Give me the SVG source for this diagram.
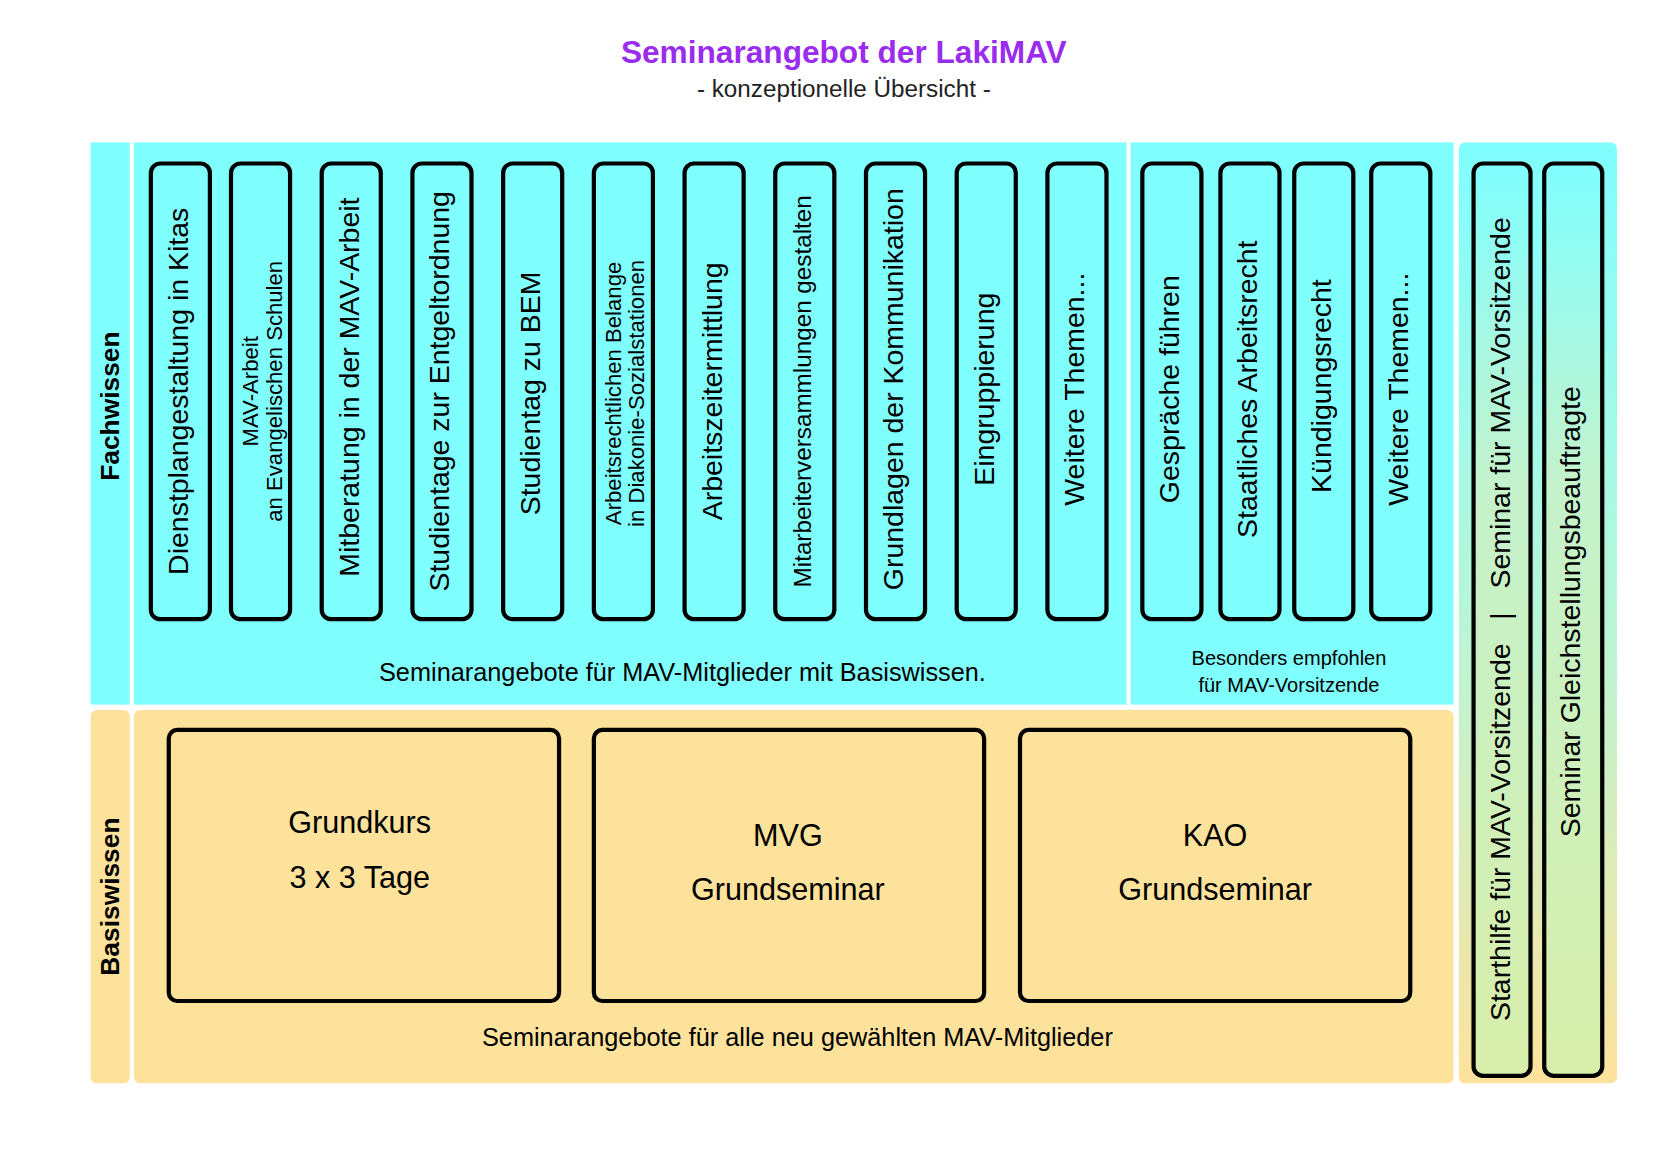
<svg xmlns="http://www.w3.org/2000/svg" width="1654" height="1166" viewBox="0 0 1654 1166">
<defs>
<style>
text{font-family:"Liberation Sans",Arial,sans-serif;fill:#000}
.c{fill:#80ffff}.y{fill:#fde29c}
.b{fill:#80ffff;stroke:#000;stroke-width:4}
.by{fill:#fde29c;stroke:#000;stroke-width:4}
.v{font-size:27px;text-anchor:middle;dominant-baseline:middle}
.s{font-size:21px;text-anchor:middle}
.m{font-size:29px;text-anchor:middle}
</style>
<linearGradient id="g" x1="0" y1="0" x2="0" y2="1">
<stop offset="0" stop-color="#80ffff"/><stop offset="0.35" stop-color="#c4f2cc"/><stop offset="1" stop-color="#d8eeaa"/></linearGradient>
<linearGradient id="pg" x1="0" y1="0" x2="0" y2="1">
<stop offset="0" stop-color="#80ffff"/><stop offset="0.5" stop-color="#b8f5d8"/><stop offset="1" stop-color="#fde29c"/></linearGradient>
</defs>
<rect width="1654" height="1166" fill="#fff"/>
<g transform="scale(1.0548)">
<text x="800" y="60" text-anchor="middle" font-size="30" font-weight="bold" style="fill:#9a2cf0">Seminarangebot der LakiMAV</text>
<text x="800" y="92" text-anchor="middle" font-size="23" style="fill:#222">- konzeptionelle Übersicht -</text>
<g id="panels">
<rect class="c" x="86" y="135" width="37" height="533"/>
<rect class="c" x="127" y="135" width="941" height="533"/>
<rect class="c" x="1072" y="135" width="306" height="533"/>
<rect class="y" x="86" y="673" width="37" height="354" rx="6"/>
<rect class="y" x="127" y="673" width="1251" height="354" rx="6"/>
<rect x="1383" y="135" width="150" height="892" rx="6" fill="url(#pg)"/>
<text transform="translate(113,385) rotate(-90)" text-anchor="middle" font-size="25" font-weight="bold">Fachwissen</text>
<text transform="translate(113,850) rotate(-90)" text-anchor="middle" font-size="25" font-weight="bold">Basiswissen</text>
<text x="647" y="646" text-anchor="middle" font-size="24">Seminarangebote für MAV-Mitglieder mit Basiswissen.</text>
<text x="1222" y="630" text-anchor="middle" font-size="19">Besonders empfohlen</text>
<text x="1222" y="656" text-anchor="middle" font-size="19">für MAV-Vorsitzende</text>
<text x="756" y="992" text-anchor="middle" font-size="24">Seminarangebote für alle neu gewählten MAV-Mitglieder</text>
</g>
<g id="f1"><rect class="b" x="143" y="155" width="56" height="432" rx="9"/><text class="v" transform="translate(171,371) rotate(-90)">Dienstplangestaltung in Kitas</text></g>
<g id="f2"><rect class="b" x="219" y="155" width="56" height="432" rx="9"/><text class="s" transform="translate(245,371) rotate(-90)"><tspan x="0" dy="0">MAV-Arbeit</tspan><tspan x="0" dy="22">an Evangelischen Schulen</tspan></text></g>
<g id="f3"><rect class="b" x="305" y="155" width="56" height="432" rx="9"/><text class="v" transform="translate(333,367) rotate(-90)">Mitberatung in der MAV-Arbeit</text></g>
<g id="f4"><rect class="b" x="391" y="155" width="56" height="432" rx="9"/><text class="v" transform="translate(419,371) rotate(-90)">Studientage zur Entgeltordnung</text></g>
<g id="f5"><rect class="b" x="477" y="155" width="56" height="432" rx="9"/><text class="v" transform="translate(505,373) rotate(-90)">Studientag zu BEM</text></g>
<g id="f6"><rect class="b" x="563" y="155" width="56" height="432" rx="9"/><text class="s" transform="translate(589,373) rotate(-90)"><tspan x="0" dy="0">Arbeitsrechtlichen Belange</tspan><tspan x="0" dy="22">in Diakonie-Sozialstationen</tspan></text></g>
<g id="f7"><rect class="b" x="649" y="155" width="56" height="432" rx="9"/><text class="v" transform="translate(677,371) rotate(-90)">Arbeitszeitermittlung</text></g>
<g id="f8"><rect class="b" x="735" y="155" width="56" height="432" rx="9"/><text class="v" style="font-size:23px" transform="translate(763,371) rotate(-90)">Mitarbeiterversammlungen gestalten</text></g>
<g id="f9"><rect class="b" x="821" y="155" width="56" height="432" rx="9"/><text class="v" transform="translate(849,369) rotate(-90)">Grundlagen der Kommunikation</text></g>
<g id="f10"><rect class="b" x="907" y="155" width="56" height="432" rx="9"/><text class="v" transform="translate(935,369) rotate(-90)">Eingruppierung</text></g>
<g id="f11"><rect class="b" x="993" y="155" width="56" height="432" rx="9"/><text class="v" transform="translate(1021,369) rotate(-90)">Weitere Themen...</text></g>
<g id="v1"><rect class="b" x="1083" y="155" width="56" height="432" rx="9"/><text class="v" transform="translate(1111,369) rotate(-90)">Gespräche führen</text></g>
<g id="v2"><rect class="b" x="1157" y="155" width="56" height="432" rx="9"/><text class="v" transform="translate(1185,369) rotate(-90)">Staatliches Arbeitsrecht</text></g>
<g id="v3"><rect class="b" x="1227" y="155" width="56" height="432" rx="9"/><text class="v" transform="translate(1255,366) rotate(-90)">Kündigungsrecht</text></g>
<g id="v4"><rect class="b" x="1300" y="155" width="56" height="432" rx="9"/><text class="v" transform="translate(1328,369) rotate(-90)">Weitere Themen...</text></g>
<g id="r1"><rect x="1397" y="155" width="54" height="865" rx="9" fill="url(#g)" stroke="#000" stroke-width="4"/><text class="v" xml:space="preserve" transform="translate(1424,587) rotate(-90)">Starthilfe für MAV-Vorsitzende   |   Seminar für MAV-Vorsitzende</text></g>
<g id="r2"><rect x="1464" y="155" width="55" height="865" rx="9" fill="url(#g)" stroke="#000" stroke-width="4"/><text class="v" transform="translate(1491,580) rotate(-90)">Seminar Gleichstellungsbeauftragte</text></g>
<g id="b1"><rect class="by" x="160" y="692" width="370" height="257" rx="8"/><text class="m" x="341" y="790">Grundkurs</text><text class="m" x="341" y="842">3 x 3 Tage</text></g>
<g id="b2"><rect class="by" x="563" y="692" width="370" height="257" rx="8"/><text class="m" x="747" y="802">MVG</text><text class="m" x="747" y="853">Grundseminar</text></g>
<g id="b3"><rect class="by" x="967" y="692" width="370" height="257" rx="8"/><text class="m" x="1152" y="802">KAO</text><text class="m" x="1152" y="853">Grundseminar</text></g>
<g id="connectors"/>
</g>
</svg>
